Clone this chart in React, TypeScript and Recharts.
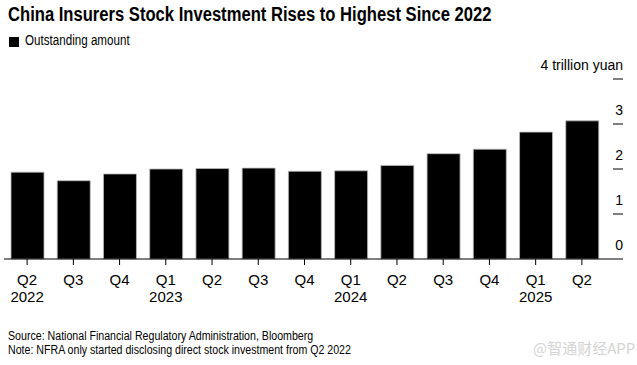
import { BarChart, Bar, XAxis, YAxis } from 'recharts';

const quarters = ['Q2', 'Q3', 'Q4', 'Q1', 'Q2', 'Q3', 'Q4', 'Q1', 'Q2', 'Q3', 'Q4', 'Q1', 'Q2'];
const years = ['2022', '', '', '2023', '', '', '', '2024', '', '', '', '2025', ''];
const amounts = [1.93, 1.74, 1.89, 2.0, 2.01, 2.02, 1.95, 1.96, 2.08, 2.34, 2.44, 2.82, 3.07];
const yTicks = [0, 1, 2, 3, 4];
const yTickLabels = ['0', '1', '2', '3', '4 trillion yuan'];

const data = quarters.map((q, i) => ({
  key: `${q} ${years[i] || i}`,
  quarter: q,
  year: years[i],
  amount: amounts[i],
}));

const FONT = '"Liberation Sans", Arial, sans-serif';

function XTick(props: any) {
  const { x, y, index } = props;
  const d = data[index];
  return (
    <g>
      <text x={x} y={y + 18} textAnchor="middle" fontSize={15} fill="#000" fontFamily={FONT}>
        {d.quarter}
      </text>
      {d.year && (
        <text x={x} y={y + 35} textAnchor="middle" fontSize={15} fill="#000" fontFamily={FONT}>
          {d.year}
        </text>
      )}
    </g>
  );
}

function YTick(props: any) {
  const { x, y, payload } = props;
  const i = yTicks.indexOf(payload.value);
  return (
    <g>
      {payload.value !== 0 && <line x1={x - 10} x2={x} y1={y} y2={y} stroke="#000" strokeWidth={1} />}
      <text x={x} y={y - 9} textAnchor="end" fontSize={14} fill="#000" fontFamily={FONT}>
        {yTickLabels[i]}
      </text>
    </g>
  );
}

const narrow = (s: number): any => ({
  transform: `scaleX(${s})`,
  transformOrigin: 'left top',
  whiteSpace: 'nowrap',
});

export default function App() {
  return (
    <div
      style={{
        position: 'absolute',
        left: 0,
        top: 0,
        width: 637,
        height: 365,
        background: '#fff',
        fontFamily: FONT,
        color: '#000',
        overflow: 'hidden',
      }}
    >
      <div style={{ position: 'absolute', left: 8, top: 3, fontSize: 20, fontWeight: 700, ...narrow(0.83) }}>
        China Insurers Stock Investment Rises to Highest Since 2022
      </div>
      <div style={{ position: 'absolute', left: 9, top: 37, width: 10, height: 10, background: '#000' }} />
      <div style={{ position: 'absolute', left: 25, top: 32, fontSize: 14, ...narrow(0.83) }}>
        Outstanding amount
      </div>

      <div style={{ position: 'absolute', left: 0, top: 0 }}>
        <BarChart
          width={637}
          height={310}
          data={data}
          margin={{ top: 79, right: 0, bottom: 0, left: 4 }}
          barSize={33}
        >
          <XAxis
            dataKey="key"
            interval={0}
            height={51}
            axisLine={{ stroke: '#000', strokeWidth: 1 }}
            tickLine={{ stroke: '#000', strokeWidth: 1 }}
            tickSize={6}
            tickMargin={2}
            padding={{ left: 0, right: 18 }}
            tick={<XTick />}
          />
          <YAxis
            orientation="right"
            domain={[0, 4]}
            ticks={yTicks}
            width={14}
            axisLine={false}
            tickLine={false}
            tickSize={0}
            tickMargin={0}
            tick={<YTick />}
          />
          <Bar dataKey="amount" fill="#000" stroke="#bbb" strokeWidth={0.8} isAnimationActive={false} />
        </BarChart>
      </div>

      <div style={{ position: 'absolute', left: 8, top: 329, fontSize: 12, lineHeight: '14px', ...narrow(0.885) }}>
        Source: National Financial Regulatory Administration, Bloomberg
        <br />
        Note: NFRA only started disclosing direct stock investment from Q2 2022
      </div>
      <div
        style={{
          position: 'absolute',
          left: 533,
          top: 337,
          fontSize: 15,
          color: '#d4d4d4',
          fontFamily: '"Noto Sans CJK SC", "Liberation Sans", sans-serif',
          whiteSpace: 'nowrap',
        }}
      >
        @智通财经APP
      </div>
    </div>
  );
}
